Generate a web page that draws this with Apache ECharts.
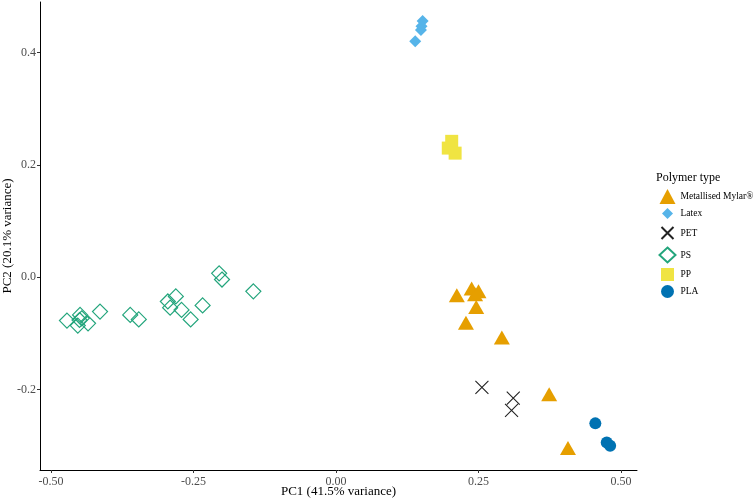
<!DOCTYPE html>
<html><head><meta charset="utf-8">
<script src="https://cdn.jsdelivr.net/npm/echarts@6/dist/echarts.min.js"></script>
<style>html,body{margin:0;padding:0;background:#fff}#c{width:753px;height:503px}</style>
</head><body><div id="c"></div>
<script>
const seriesNames = ['Metallised Mylar®', 'Latex', 'PET', 'PS', 'PP', 'PLA'];
const mylar = [[0.212,-0.032],[0.238,-0.020],[0.244,-0.030],[0.250,-0.025],[0.246,-0.053],[0.228,-0.081],[0.291,-0.107],[0.374,-0.208],[0.407,-0.304]];
const latex = [[0.152,0.456],[0.150,0.447],[0.149,0.440],[0.139,0.420]];
const pet = [[0.256,-0.196],[0.311,-0.215],[0.308,-0.237]];
const ps = [[-0.472,-0.077],[-0.453,-0.086],[-0.449,-0.067],[-0.446,-0.073],[-0.450,-0.076],[-0.435,-0.082],[-0.414,-0.061],[-0.361,-0.067],[-0.346,-0.075],[-0.295,-0.043],[-0.281,-0.034],[-0.291,-0.054],[-0.271,-0.058],[-0.255,-0.075],[-0.234,-0.050],[-0.205,0.007],[-0.200,-0.004],[-0.145,-0.025]];
const pp = [[0.203,0.242],[0.197,0.230],[0.209,0.221]];
const pla = [[0.455,-0.260],[0.475,-0.294],[0.481,-0.300]];
const xTicks = [-0.5,-0.25,0,0.25,0.5];
const yTicks = [-0.2,0,0.2,0.4];

const font = 'Liberation Serif';
const chart = echarts.init(document.getElementById('c'));
const xPath = 'path://M0,0L10,10M10,0L0,10';
const axisCommon = {
  type: 'value', splitLine: {show: false},
  axisLine: {show: true, onZero: false, lineStyle: {color: '#000', width: 1}},
  nameMoveOverlap: false,
  nameTextStyle: {fontFamily: font, fontSize: 13, color: '#000'}
};
const legendIcons = [
  'triangle',
  'path://M0,0M15,15M7.5,2L13,7.5L7.5,13L2,7.5Z',
  'path://M0,0M15,15M1.5,1.5L13.5,13.5M13.5,1.5L1.5,13.5',
  'diamond',
  'path://M0,0M15,15M1,1L14,1L14,14L1,14Z',
  'path://M0,0M15,15M14,7.5A6.5,6.5,0,1,1,1,7.5A6.5,6.5,0,1,1,14,7.5Z'
];
chart.setOption({
  animation: false,
  backgroundColor: '#fff',
  grid: {left: 40, right: 116, top: 2, bottom: 33, containLabel: false, outerBoundsMode: 'none'},
  title: {text: 'Polymer type', left: 656, top: 172, padding: 0, textStyle: {fontFamily: font, fontSize: 12, fontWeight: 'normal', color: '#000'}},
  legend: {
    orient: 'vertical', left: 657, top: 189, padding: 0, itemWidth: 16, itemHeight: 15, itemGap: 2, itemTextGap: 6,
    textStyle: {fontFamily: font, fontSize: 9.5, color: '#000'},
    data: seriesNames.map((n, i) => ({name: n, icon: legendIcons[i]}))
  },
  xAxis: Object.assign({}, axisCommon, {
    min: -0.5193, max: 0.5281,
    name: 'PC1 (41.5% variance)', nameLocation: 'middle', nameGap: 15,
    axisLabel: {customValues: xTicks, formatter: v => v.toFixed(2), fontFamily: font, fontSize: 12, color: '#4d4d4d', margin: 6},
    axisTick: {show: true, length: 3, customValues: xTicks, lineStyle: {color: '#333'}}
  }),
  yAxis: Object.assign({}, axisCommon, {
    min: -0.343, max: 0.49,
    name: 'PC2 (20.1% variance)', nameLocation: 'middle', nameGap: 26,
    axisLabel: {customValues: yTicks, formatter: v => v.toFixed(1), fontFamily: font, fontSize: 12, color: '#4d4d4d', margin: 4},
    axisTick: {show: true, length: 3, customValues: yTicks, lineStyle: {color: '#333'}}
  }),
  series: [
    {name: seriesNames[0], type: 'scatter', data: mylar, symbol: 'triangle', symbolSize: [16, 14], itemStyle: {color: '#E69F00', opacity: 1}},
    {name: seriesNames[1], type: 'scatter', data: latex, symbol: 'diamond', symbolSize: 12, itemStyle: {color: '#56B4E9', opacity: 1}},
    {name: seriesNames[2], type: 'scatter', data: pet, symbol: xPath, symbolSize: 13, itemStyle: {color: 'none', borderColor: '#222', borderWidth: 1.1, opacity: 1}},
    {name: seriesNames[3], type: 'scatter', data: ps, symbol: 'diamond', symbolSize: 15, itemStyle: {color: 'none', borderColor: '#23a57c', borderWidth: 1.2, opacity: 1}},
    {name: seriesNames[4], type: 'scatter', data: pp, symbol: 'rect', symbolSize: 13, itemStyle: {color: '#F0E442', opacity: 1}},
    {name: seriesNames[5], type: 'scatter', data: pla, symbol: 'circle', symbolSize: 12, itemStyle: {color: '#0072B2', opacity: 1}}
  ]
});
</script>
</body></html>
